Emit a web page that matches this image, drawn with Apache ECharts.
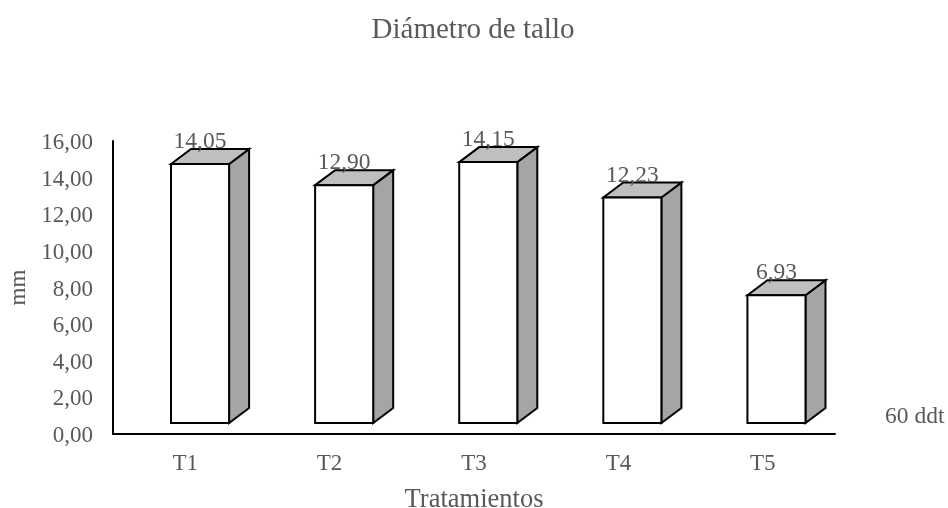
<!DOCTYPE html>
<html>
<head>
<meta charset="utf-8">
<style>html,body{margin:0;padding:0;background:#fff}#chart{width:948px;height:508px}</style>
<script src="https://cdn.jsdelivr.net/npm/echarts@6/dist/echarts.min.js"></script>
</head>
<body>
<div id="chart"></div>
<script>
const categories = ['T1', 'T2', 'T3', 'T4', 'T5'];
const diametros = [14.05, 12.90, 14.15, 12.23, 6.93];
const yTicks = { min: 0, max: 16, interval: 2 };
const chartTitle = 'Diámetro de tallo';
const seriesName = '60 ddt';
const textColor = '#595959';
const serif = '"Liberation Serif", "Times New Roman", serif';
const fmt = v => v.toFixed(2).replace('.', ',');

// Extruded column: front face plus top and side faces pushed back by a fixed depth.
function renderColumn(params, api) {
  const value = api.value(1);
  const top = api.coord([api.value(0), value]);
  const base = api.coord([api.value(0), 0]);
  const w = api.size([1, 0])[0] * 0.403;
  const dx = 20, dy = 15;
  const l = top[0] - w / 2, r = top[0] + w / 2;
  const line = { stroke: '#000', lineWidth: 2, lineJoin: 'miter' };
  return {
    type: 'group',
    children: [
      { type: 'polygon', shape: { points: [[r, top[1]], [r + dx, top[1] - dy], [r + dx, base[1] - dy], [r, base[1]]] },
        style: Object.assign({ fill: '#a5a5a5' }, line) },
      { type: 'polygon', shape: { points: [[l, top[1]], [l + dx, top[1] - dy], [r + dx, top[1] - dy], [r, top[1]]] },
        style: Object.assign({ fill: '#bfbfbf' }, line) },
      { type: 'rect', shape: { x: l, y: top[1], width: w, height: base[1] - top[1] },
        style: Object.assign({ fill: '#fff' }, line) },
      { type: 'text', x: top[0], y: top[1] - 22,
        style: { text: fmt(value), fill: textColor, font: '23.5px ' + serif, textAlign: 'center', textVerticalAlign: 'middle' } }
    ]
  };
}

const chart = echarts.init(document.getElementById('chart'), null, { renderer: 'canvas' });
chart.setOption({
  animation: false,
  backgroundColor: '#fff',
  title: {
    text: chartTitle, left: 468, top: 11, textAlign: 'center',
    textStyle: { fontFamily: serif, fontSize: 29, fontWeight: 'normal', color: textColor }
  },
  grid: [
    { left: 113, top: 141, width: 722, height: 293, outerBoundsMode: 'none' },
    { left: 128, top: 128, width: 720.5, height: 295, outerBoundsMode: 'none' }
  ],
  xAxis: [
    { type: 'category', gridIndex: 0, data: categories,
      axisLine: { lineStyle: { color: '#000', width: 2 } }, axisTick: { show: false },
      axisLabel: { fontFamily: serif, fontSize: 23, color: textColor, margin: 18 },
      name: 'Tratamientos', nameLocation: 'middle', nameGap: 53,
      nameTextStyle: { fontFamily: serif, fontSize: 26.5, color: textColor } },
    { type: 'category', gridIndex: 1, data: categories, show: false }
  ],
  yAxis: [
    { type: 'value', gridIndex: 0, min: yTicks.min, max: yTicks.max, interval: yTicks.interval,
      splitLine: { show: false }, axisTick: { show: false },
      axisLine: { show: true, lineStyle: { color: '#000', width: 2 } },
      axisLabel: { fontFamily: serif, fontSize: 23, color: textColor, margin: 20, formatter: fmt,
        verticalAlign: 'top', lineHeight: 4 },
      name: 'mm', nameLocation: 'middle', nameGap: 82, nameRotate: 90,
      nameTextStyle: { fontFamily: serif, fontSize: 23, color: textColor } },
    { type: 'value', gridIndex: 1, min: yTicks.min, max: yTicks.max, show: false }
  ],
  series: [{
    type: 'custom', name: seriesName, xAxisIndex: 1, yAxisIndex: 1, clip: false,
    renderItem: renderColumn,
    encode: { x: 0, y: 1 },
    data: categories.map((c, i) => [i, diametros[i]])
  }],
  graphic: [{
    type: 'text', left: 885, top: 405,
    style: { text: seriesName, fill: textColor, font: '23.5px ' + serif }
  }]
});
</script>
</body>
</html>
